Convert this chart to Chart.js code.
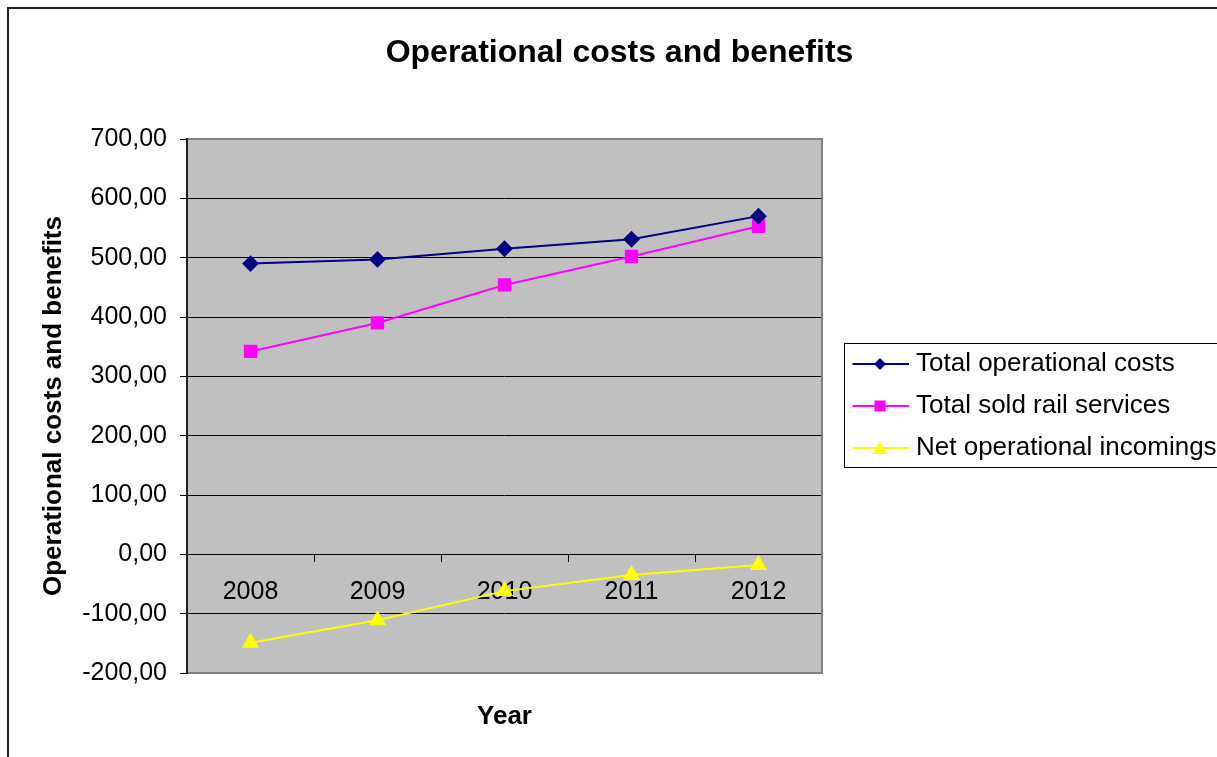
<!DOCTYPE html>
<html>
<head>
<meta charset="utf-8">
<title>Operational costs and benefits</title>
<script src="https://cdn.jsdelivr.net/npm/chart.js@4"></script>
<style>
  html, body { margin: 0; padding: 0; background: #fff; overflow: hidden; }
  canvas { display: block; }
</style>
</head>
<body>
<canvas id="myChart" width="1217" height="757"></canvas>
<script>
var years = ["2008", "2009", "2010", "2011", "2012"];
var totalCosts = [490, 497, 515, 531, 570];
var soldServices = [342, 390, 454, 502, 553];
var netIncomings = [-149, -111, -62, -35, -18];
var yTicks = [-200, -100, 0, 100, 200, 300, 400, 500, 600, 700];

var FONT = "'Liberation Sans', Arial, sans-serif";

// little line+marker swatches for the legend
function legendIcon(color, marker) {
  var c = document.createElement('canvas');
  c.width = 76;
  c.height = 20;
  var g = c.getContext('2d');
  g.strokeStyle = color;
  g.lineWidth = 2;
  g.beginPath();
  g.moveTo(20, 10);
  g.lineTo(76, 10);
  g.stroke();
  g.fillStyle = color;
  g.beginPath();
  var cx = 47.5, cy = 10;
  if (marker === 'diamond') {
    g.moveTo(cx, cy - 6); g.lineTo(cx + 6, cy); g.lineTo(cx, cy + 6); g.lineTo(cx - 6, cy);
  } else if (marker === 'square') {
    g.rect(cx - 5.5, cy - 5.5, 11, 11);
  } else {
    g.moveTo(cx, cy - 7); g.lineTo(cx + 7, cy + 6); g.lineTo(cx - 7, cy + 6);
  }
  g.closePath();
  g.fill();
  return c;
}

var icons = [
  legendIcon('#000080', 'diamond'),
  legendIcon('#FF00FF', 'square'),
  legendIcon('#FFFF00', 'triangle')
];

var frame = {
  id: 'frame',
  beforeDraw: function (chart) {
    var ctx = chart.ctx, a = chart.chartArea;
    ctx.save();
    ctx.fillStyle = '#C0C0C0';
    ctx.fillRect(a.left, a.top, a.right - a.left, a.bottom - a.top);
    ctx.restore();
  },
  afterDraw: function (chart) {
    var ctx = chart.ctx, a = chart.chartArea;
    ctx.save();
    // outer chart border
    ctx.strokeStyle = '#222';
    ctx.lineWidth = 2;
    ctx.strokeRect(8, 8, chart.width + 20, chart.height + 20);
    // plot border
    ctx.strokeStyle = '#808080';
    ctx.lineWidth = 2;
    ctx.strokeRect(a.left, a.top, a.right - a.left, a.bottom - a.top);
    ctx.strokeStyle = '#000';
    ctx.lineWidth = 1.5;
    ctx.beginPath();
    ctx.moveTo(a.left, a.top - 1);
    ctx.lineTo(a.left, a.bottom + 1);
    ctx.stroke();
    // legend box
    var hb = chart.legend.legendHitBoxes;
    if (hb && hb.length) {
      var top = hb[0].top - 8.5;
      var bottom = hb[hb.length - 1].top + hb[hb.length - 1].height + 5.5;
      ctx.strokeStyle = '#000';
      ctx.lineWidth = 1;
      ctx.strokeRect(a.right + 22.5, Math.round(top) + 0.5, chart.width, Math.round(bottom - top));
    }
    ctx.restore();
  }
};

var ctx = document.getElementById('myChart');

var chartData = {
  labels: years,
  datasets: [
    {
      label: "Total operational costs",
      data: totalCosts,
      borderColor: "#000080",
      backgroundColor: "#000080",
      borderWidth: 2,
      pointStyle: 'rectRot',
      pointRadius: 7,
      pointHoverRadius: 7
    },
    {
      label: "Total sold rail services",
      data: soldServices,
      borderColor: "#FF00FF",
      backgroundColor: "#FF00FF",
      borderWidth: 2,
      pointStyle: 'rect',
      pointRadius: 8,
      pointHoverRadius: 8
    },
    {
      label: "Net operational incomings",
      data: netIncomings,
      borderColor: "#FFFF00",
      backgroundColor: "#FFFF00",
      borderWidth: 2,
      pointStyle: 'triangle',
      pointRadius: 8,
      pointHoverRadius: 8
    }
  ]
};

var chartOptions = {
  responsive: false,
  animation: false,
  layout: { padding: { left: 22, right: 0, top: 0, bottom: 0 } },
  plugins: {
    title: {
      display: true,
      text: "Operational costs and benefits",
      color: "#000",
      font: { family: FONT, size: 32, weight: 'bold' },
      padding: { top: 34, bottom: 66.6 }
    },
    legend: {
      position: 'right',
      fullSize: false,
      maxWidth: 395,
      labels: {
        color: "#000",
        font: { family: FONT, size: 26 },
        usePointStyle: true,
        pointStyleWidth: 65,
        padding: 16,
        generateLabels: function (chart) {
          var items = Chart.defaults.plugins.legend.labels.generateLabels(chart);
          items.forEach(function (item, i) { item.pointStyle = icons[i]; });
          return items;
        }
      }
    },
    tooltip: { enabled: false }
  },
  scales: {
    x: {
      type: 'category',
      position: 'bottom',
      offset: true,
      ticks: { display: false },
      grid: { display: false, drawTicks: false },
      border: { display: false },
      title: {
        display: true,
        text: "Year",
        color: "#000",
        font: { family: FONT, size: 26, weight: 'bold' },
        padding: { top: 0, bottom: 24.4 }
      },
      afterFit: function (s) { s.height = 84; }
    },
    x2: {
      type: 'category',
      position: { y: 0 },
      offset: true,
      ticks: { color: "#000", font: { family: FONT, size: 25 }, padding: 16, maxRotation: 0 },
      grid: { offset: true, drawOnChartArea: false, drawTicks: true, tickLength: 7, color: "#000" },
      border: { display: true, color: "#000", width: 1 }
    },
    y: {
      min: -200,
      max: 700,
      afterBuildTicks: function (s) {
        s.ticks = yTicks.map(function (v) { return { value: v }; });
      },
      ticks: {
        color: "#000",
        font: { family: FONT, size: 25 },
        padding: 13,
        callback: function (v) { return v.toFixed(2).replace('.', ','); }
      },
      grid: { color: "#000", lineWidth: 1, tickLength: 7 },
      border: { display: false },
      title: {
        display: true,
        text: "Operational costs and benefits",
        color: "#000",
        font: { family: FONT, size: 26, weight: 'bold' },
        padding: { top: 16, bottom: 0 }
      },
      afterFit: function (s) { s.width = 165; }
    }
  }
};

var myChart = new Chart(ctx, {
  type: 'line',
  data: chartData,
  options: chartOptions,
  plugins: [frame]
});
</script>
</body>
</html>
